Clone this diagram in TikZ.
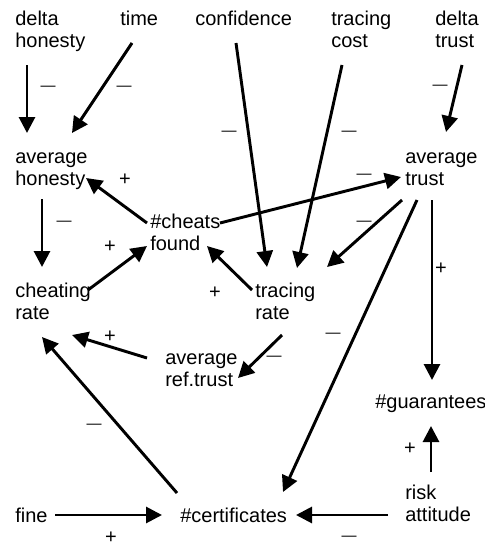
\documentclass[tikz,border=0pt]{standalone}
\usepackage{fontspec}
\setmainfont{Liberation Sans}
\usetikzlibrary{arrows.meta}
\newcommand{\twol}[2]{\begin{tabular}[t]{@{}l@{}}#1\\#2\end{tabular}}
\begin{document}
\begin{tikzpicture}[x=0.75pt,y=-0.75pt,
  lbl/.style={inner sep=0pt,anchor=base west,font=\fontsize{15pt}{16.5pt}\selectfont},
  conn/.style={line width=2.2pt,-{Triangle[length=12pt,width=12pt]}},
  mn/.style={inner sep=0pt,font=\fontsize{11.25pt}{13pt}\selectfont},
  pl/.style={inner sep=0pt,font=\fontsize{15pt}{16.5pt}\selectfont}]
\useasboundingbox (0,0) rectangle (485,546);
\node[lbl] (dh) at (15,26) {\twol{delta}{honesty}};
\node[lbl] (tm) at (120,26) {time};
\node[lbl] (cf) at (195,26) {confidence};
\node[lbl] (tc) at (331,26) {\twol{tracing}{cost}};
\node[lbl] (dt) at (435,26) {\twol{delta}{trust}};
\node[lbl] (ah) at (15,163) {\twol{average}{honesty}};
\node[lbl] (at) at (405,163) {\twol{average}{trust}};
\node[lbl] (cfnd) at (150,228) {\twol{\#cheats}{found}};
\node[lbl] (cr) at (15,297) {\twol{cheating}{rate}};
\node[lbl] (tr) at (255,297) {\twol{tracing}{rate}};
\node[lbl] (art) at (165,364) {\twol{average}{ref.trust}};
\node[lbl] (gu) at (375,408) {\#guarantees};
\node[lbl] (fi) at (15,522) {fine};
\node[lbl] (ce) at (180,522) {\#certificates};
\node[lbl] (ra) at (405,499) {\twol{risk}{attitude}};

\draw[conn] ([shift={(12,39)}]dh.base west) -- ([shift={(12,-30)}]ah.base west);
\draw[conn] ([shift={(12,17)}]tm.base west) -- ([shift={(57,-30)}]ah.base west);
\draw[conn] ([shift={(41,17)}]cf.base west) -- ([shift={(12,-30)}]tr.base west);
\draw[conn] ([shift={(11,39)}]tc.base west) -- ([shift={(42,-29)}]tr.base west);
\draw[conn] ([shift={(27,39)}]dt.base west) -- ([shift={(41,-31)}]at.base west);
\draw[conn] ([shift={(70,-5)}]cfnd.base west) -- ([shift={(-4,14)}]at.base west);
\draw[conn] ([shift={(-3,-5)}]cfnd.base west) -- ([shift={(71,15)}]ah.base west);
\draw[conn] ([shift={(27,36)}]ah.base west) -- ([shift={(27,-30)}]cr.base west);
\draw[conn] ([shift={(73,-7)}]cr.base west) -- ([shift={(-3,18)}]cfnd.base west);
\draw[conn] ([shift={(-3,-7)}]tr.base west) -- ([shift={(57,18)}]cfnd.base west);
\draw[conn] ([shift={(-3,37)}]at.base west) -- ([shift={(72,-30)}]tr.base west);
\draw[conn] ([shift={(12,37)}]at.base west) -- ([shift={(103,-30)}]ce.base west);
\draw[conn] ([shift={(27,37)}]at.base west) -- ([shift={(57,-28)}]gu.base west);
\draw[conn] ([shift={(27,38)}]tr.base west) -- ([shift={(73,14)}]art.base west);
\draw[conn] ([shift={(-18,-6)}]art.base west) -- ([shift={(57,38)}]cr.base west);
\draw[conn] ([shift={(-3,-29)}]ce.base west) -- ([shift={(27,40)}]cr.base west);
\draw[conn] ([shift={(40,-7)}]fi.base west) -- ([shift={(-18,-7)}]ce.base west);
\draw[conn] ([shift={(-17,16)}]ra.base west) -- ([shift={(116,-7)}]ce.base west);
\draw[conn] ([shift={(26,-27)}]ra.base west) -- ([shift={(56,18)}]gu.base west);

\node[mn] (m1) at (48,88) {—};
\node[mn] (m2) at (124,88) {—};
\node[mn] (m3) at (229,133) {—};
\node[mn] (m4) at (349,133) {—};
\node[mn] (m5) at (440,87) {—};
\node[mn] (m6) at (364,176) {—};
\node[mn] (m7) at (64,223) {—};
\node[mn] (m8) at (364,223) {—};
\node[mn] (m9) at (333,335) {—};
\node[mn] (m10) at (274,358) {—};
\node[mn] (m11) at (94,426) {—};
\node[mn] (m12) at (349,538) {—};
\node[pl] (p1) at (125,180) {+};
\node[pl] (p2) at (110,247) {+};
\node[pl] (p3) at (215,293) {+};
\node[pl] (p4) at (441,269) {+};
\node[pl] (p5) at (110,337) {+};
\node[pl] (p6) at (111,538) {+};
\node[pl] (p7) at (410,449) {+};
\end{tikzpicture}
\end{document}
